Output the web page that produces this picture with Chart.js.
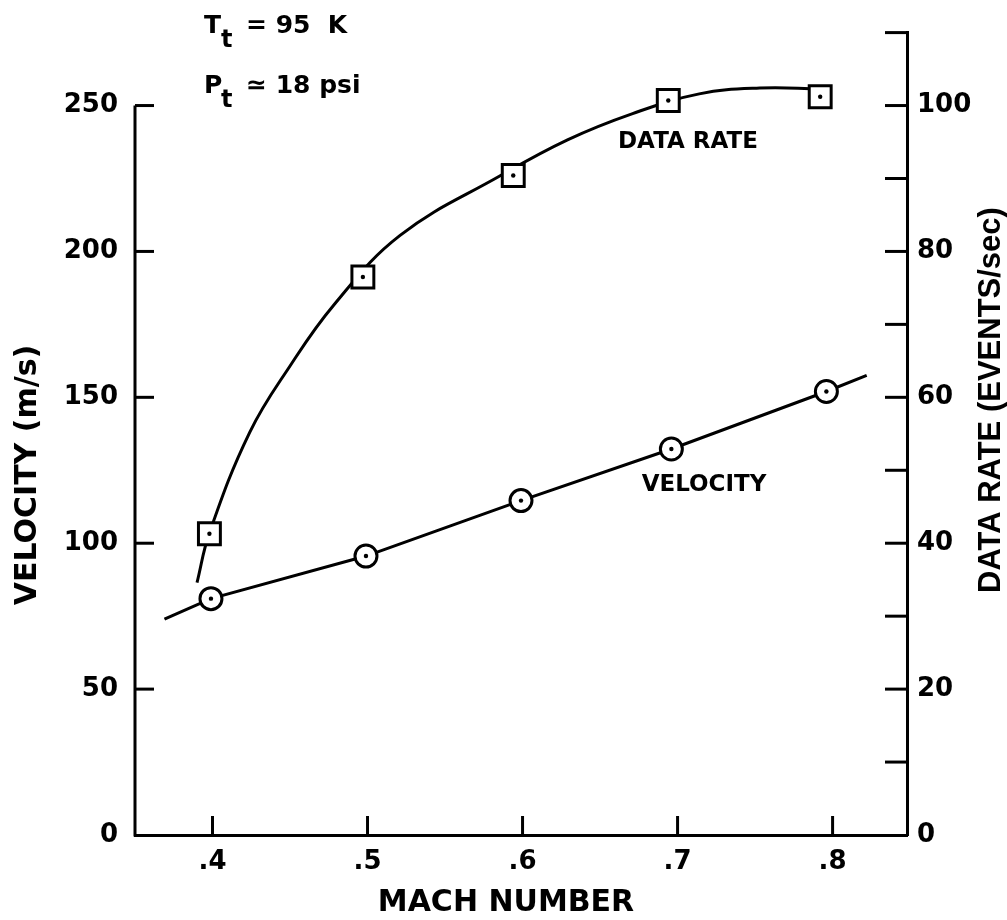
<!DOCTYPE html>
<html lang="en">
<head>
  <meta charset="UTF-8">
  <title>Velocity and Data Rate vs Mach Number</title>
  <style>
    html, body { margin: 0; padding: 0; background: #fff; }
    .wrap { width: 1007px; height: 920px; position: relative; }
  </style>
</head>
<body>
  <div class="wrap">
    <canvas id="machChart"></canvas>
  </div>

  <script src="https://cdn.jsdelivr.net/npm/chart.js"></script>
  <script>
    // measured points
    const machVelocity = [0.399, 0.499, 0.599, 0.696, 0.796];
    const velocity = [81, 95.6, 114.6, 132.3, 152];
    const machRate = [0.398, 0.497, 0.594, 0.694, 0.792];
    const dataRate = [41.3, 76.5, 90.4, 100.7, 101.2];

    // hand-drawn fit lines
    const velFitMach = [0.369, 0.399, 0.499, 0.599, 0.696, 0.796, 0.822];
    const velFit = [74, 81, 95.6, 114.6, 132.3, 152, 157.5];
    const rateFitMach = [0.390, 0.398, 0.424, 0.450, 0.478, 0.521, 0.585, 0.629, 0.671, 0.714, 0.753, 0.792];
    const rateFit = [34.6, 41.4, 55.2, 64.3, 72.6, 82.2, 90.3, 95.3, 98.9, 101.6, 102.4, 102.3];

    // axes
    const machTicks = [0.4, 0.5, 0.6, 0.7, 0.8];
    const machLabels = ['.4', '.5', '.6', '.7', '.8'];
    const velocityTicks = [0, 50, 100, 150, 200, 250];
    const rateTicks = [0, 10, 20, 30, 40, 50, 60, 70, 80, 90, 100, 110];
    const rateLabels = [0, 20, 40, 60, 80, 100];

    const pts = (xs, ys) => xs.map((x, i) => ({ x: x, y: ys[i] }));
    const tickFont = { family: 'DejaVu Sans', size: 26, weight: 'bold' };

    // inward tick marks, short left spine, titles and notes
    const figurePlugin = {
      id: 'figure',
      afterDraw(chart) {
        const ctx = chart.ctx;
        const area = chart.chartArea;
        const sx = chart.scales.x, sy = chart.scales.y, sr = chart.scales.y2;
        ctx.save();
        ctx.strokeStyle = '#000';
        ctx.lineWidth = 3;
        ctx.lineCap = 'butt';

        ctx.beginPath();
        ctx.moveTo(area.left, sy.getPixelForValue(0) + 1.5);
        ctx.lineTo(area.left, sy.getPixelForValue(250));
        ctx.stroke();

        sy.ticks.forEach(t => {
          if (t.value === 0) return;
          const y = sy.getPixelForValue(t.value);
          ctx.beginPath(); ctx.moveTo(area.left, y); ctx.lineTo(area.left + 19, y); ctx.stroke();
        });
        sr.ticks.forEach(t => {
          if (t.value === 0) return;
          const y = sr.getPixelForValue(t.value);
          ctx.beginPath(); ctx.moveTo(area.right, y); ctx.lineTo(area.right - 22, y); ctx.stroke();
        });
        sx.ticks.forEach(t => {
          const x = sx.getPixelForValue(t.value);
          ctx.beginPath(); ctx.moveTo(x, area.bottom); ctx.lineTo(x, area.bottom - 19); ctx.stroke();
        });

        ctx.fillStyle = '#000';
        ctx.textBaseline = 'middle';
        ctx.textAlign = 'center';

        ctx.font = 'bold 30px "DejaVu Sans"';
        ctx.fillText('MACH NUMBER', 506, 903);

        ctx.save();
        ctx.translate(28, 475);
        ctx.rotate(-Math.PI / 2);
        ctx.font = 'bold 30px "DejaVu Sans"';
        ctx.fillText('VELOCITY (m/s)', 0, 0);
        ctx.restore();

        ctx.save();
        ctx.translate(991, 400);
        ctx.rotate(-Math.PI / 2);
        ctx.font = 'bold 31px "Liberation Sans"';
        ctx.fillText('DATA RATE (EVENTS/sec)', 0, 0);
        ctx.restore();

        ctx.font = 'bold 23px "DejaVu Sans"';
        ctx.fillText('DATA RATE', 688, 142);
        ctx.fillText('VELOCITY', 704, 485);

        // run conditions
        ctx.textAlign = 'left';
        ctx.textBaseline = 'alphabetic';
        ctx.font = 'bold 25px "DejaVu Sans"';
        ctx.fillText('T', 204, 33);
        ctx.fillText('= 95  K', 246, 33);
        ctx.fillText('P', 204, 93);
        ctx.fillText('\u2243 18 psi', 246, 93);
        ctx.font = 'bold 24px "DejaVu Sans"';
        ctx.fillText('t', 221, 47);
        ctx.fillText('t', 221, 107);
        ctx.restore();
      }
    };

    const ctx = document.getElementById('machChart').getContext('2d');
    new Chart(ctx, {
      type: 'scatter',
      data: {
        datasets: [
          {
            label: 'Velocity fit',
            data: pts(velFitMach, velFit),
            showLine: true,
            borderColor: '#000',
            borderWidth: 3,
            pointRadius: 0,
            tension: 0,
            yAxisID: 'y',
            order: 5
          },
          {
            label: 'Data rate fit',
            data: pts(rateFitMach, rateFit),
            showLine: true,
            borderColor: '#000',
            borderWidth: 3,
            pointRadius: 0,
            tension: 0.4,
            yAxisID: 'y2',
            order: 5
          },
          {
            label: 'Velocity',
            data: pts(machVelocity, velocity),
            pointStyle: 'circle',
            pointRadius: 11,
            pointBorderWidth: 3,
            pointBorderColor: '#000',
            pointBackgroundColor: '#fff',
            yAxisID: 'y',
            order: 2
          },
          {
            label: 'Data rate',
            data: pts(machRate, dataRate),
            pointStyle: 'rect',
            pointRadius: 15.5,
            pointBorderWidth: 3,
            pointBorderColor: '#000',
            pointBackgroundColor: '#fff',
            yAxisID: 'y2',
            order: 2
          },
          {
            label: 'Velocity centre',
            data: pts(machVelocity, velocity),
            pointRadius: 2.2,
            pointBorderWidth: 0,
            pointBackgroundColor: '#000',
            yAxisID: 'y',
            order: 1
          },
          {
            label: 'Data rate centre',
            data: pts(machRate, dataRate),
            pointRadius: 2.2,
            pointBorderWidth: 0,
            pointBackgroundColor: '#000',
            yAxisID: 'y2',
            order: 1
          }
        ]
      },
      options: {
        responsive: true,
        maintainAspectRatio: false,
        animation: false,
        layout: { padding: { top: 25, left: 0, right: 0, bottom: 0 } },
        plugins: {
          legend: { display: false },
          tooltip: { enabled: false }
        },
        scales: {
          x: {
            type: 'linear',
            min: 0.35,
            max: 0.848,
            afterBuildTicks: s => { s.ticks = machTicks.map(v => ({ value: v })); },
            afterFit: s => { s.height = 85; },
            grid: { display: false, drawTicks: false },
            border: { display: true, color: '#000', width: 3 },
            ticks: {
              color: '#000',
              font: tickFont,
              padding: 12,
              maxRotation: 0,
              callback: v => machLabels[machTicks.indexOf(v)]
            }
          },
          y: {
            position: 'left',
            min: 0,
            max: 275,
            afterBuildTicks: s => { s.ticks = velocityTicks.map(v => ({ value: v })); },
            afterFit: s => { s.width = 135; },
            grid: { display: false, drawTicks: false },
            border: { display: false },
            ticks: { color: '#000', font: tickFont, padding: 17 }
          },
          y2: {
            position: 'right',
            min: 0,
            max: 110,
            afterBuildTicks: s => { s.ticks = rateTicks.map(v => ({ value: v })); },
            afterFit: s => { s.width = 100; },
            grid: { display: false, drawTicks: false },
            border: { display: true, color: '#000', width: 3 },
            ticks: {
              color: '#000',
              font: tickFont,
              padding: 10,
              callback: v => rateLabels.includes(v) ? String(v) : ''
            }
          }
        }
      },
      plugins: [figurePlugin]
    });
  </script>
</body>
</html>
